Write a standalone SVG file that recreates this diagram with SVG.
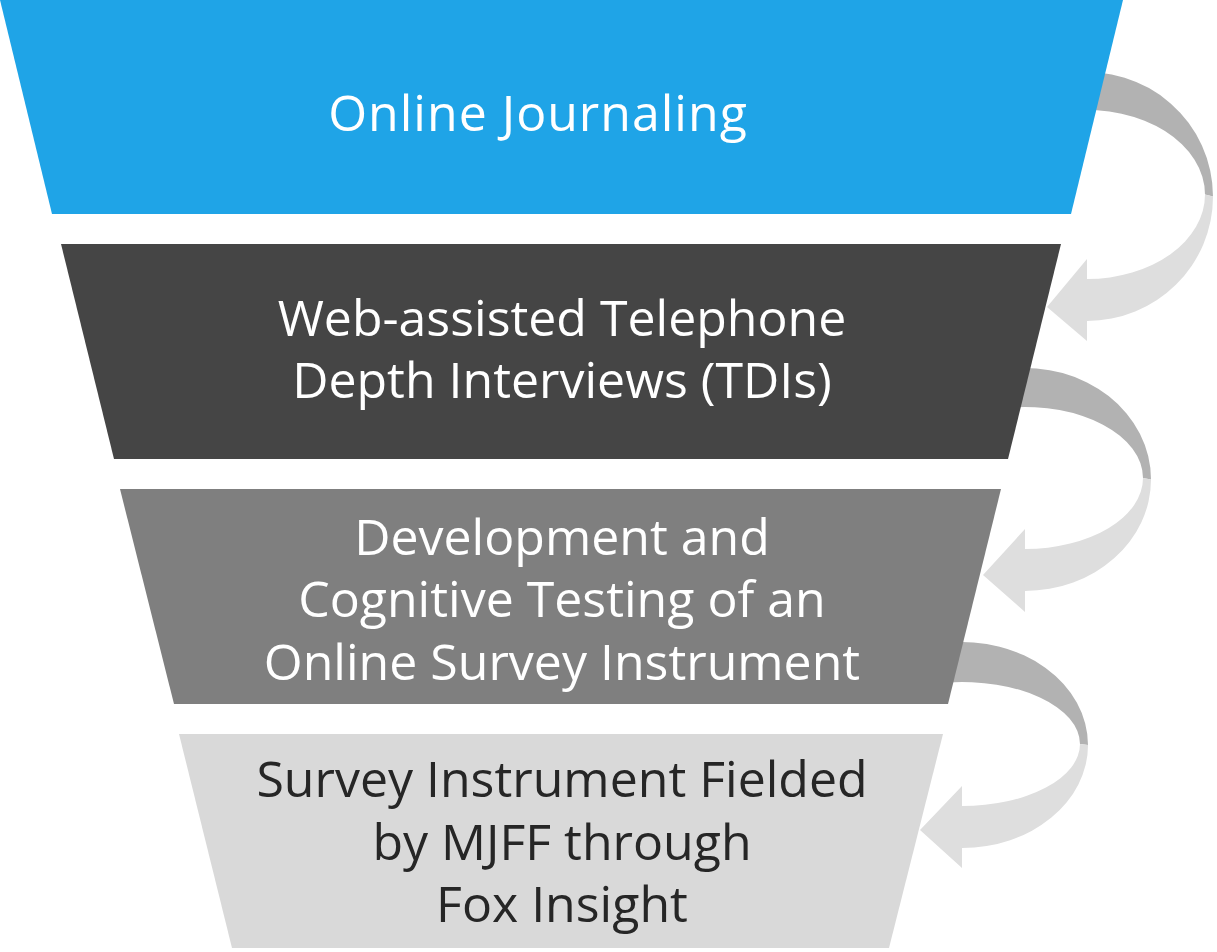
<svg xmlns="http://www.w3.org/2000/svg" width="1217" height="952" viewBox="0 0 1217 952">
<style>
.t{font-family:"Open Sans","Noto Sans","DejaVu Sans",sans-serif;font-size:50px;text-anchor:middle}
.w{fill:#ffffff}
.k{fill:#262626}
.ad{fill:#b2b2b2}
.al{fill:#dedede}
</style>
<rect width="1217" height="952" fill="#ffffff"/>
<g id="connectors">
<g id="arrow1">
<path class="ad" d="M1072 72.89 A126 124.5 0 0 1 1213 196.5 L1205 194.5 A118 84.5 0 0 0 1072 110.69 Z"/>
<path class="al" d="M1213 196.5 A126 124.5 0 0 1 1087 321 L1087 341 L1047 307 L1087 259 L1087 279 A118 84.5 0 0 0 1205 194.5 Z"/>
</g>
<g id="arrow2">
<path class="ad" d="M1010 368.79 A126 111.5 0 0 1 1151 479.5 L1143 478 A118 71 0 0 0 1010 407.58 Z"/>
<path class="al" d="M1151 479.5 A126 111.5 0 0 1 1025 591 L1025 612 L983 575 L1025 529 L1025 549 A118 71 0 0 0 1143 478 Z"/>
</g>
<g id="arrow3">
<path class="ad" d="M947 642.73 A126 103 0 0 1 1088 745 L1080 744 A118 62 0 0 0 947 682.5 Z"/>
<path class="al" d="M1088 745 A126 103 0 0 1 962 848 L962 868 L920 830 L962 786 L962 806 A118 62 0 0 0 1080 744 Z"/>
</g>
</g>
<g id="node1">
<polygon points="0,0 1123,0 1071,214 52,214" fill="#1fa4e7"/>
<text class="t w" x="538" y="131" letter-spacing="1">Online Journaling</text>
</g>
<g id="node2">
<polygon points="61,244 1061,244 1008,459 114,459" fill="#454545"/>
<text class="t w" x="562" y="336">Web-assisted Telephone</text>
<text class="t w" x="562" y="398">Depth Interviews (TDIs)</text>
</g>
<g id="node3">
<polygon points="120,489 1001,489 948,704 174,704" fill="#7f7f7f"/>
<text class="t w" x="562" y="555">Development and</text>
<text class="t w" x="562" y="617">Cognitive Testing of an</text>
<text class="t w" x="562" y="680">Online Survey Instrument</text>
</g>
<g id="node4">
<polygon points="179,734 943,734 889,948 232,948" fill="#d9d9d9"/>
<text class="t k" x="562" y="797">Survey Instrument Fielded</text>
<text class="t k" x="562" y="860">by MJFF through</text>
<text class="t k" x="562" y="922">Fox Insight</text>
</g>
</svg>
